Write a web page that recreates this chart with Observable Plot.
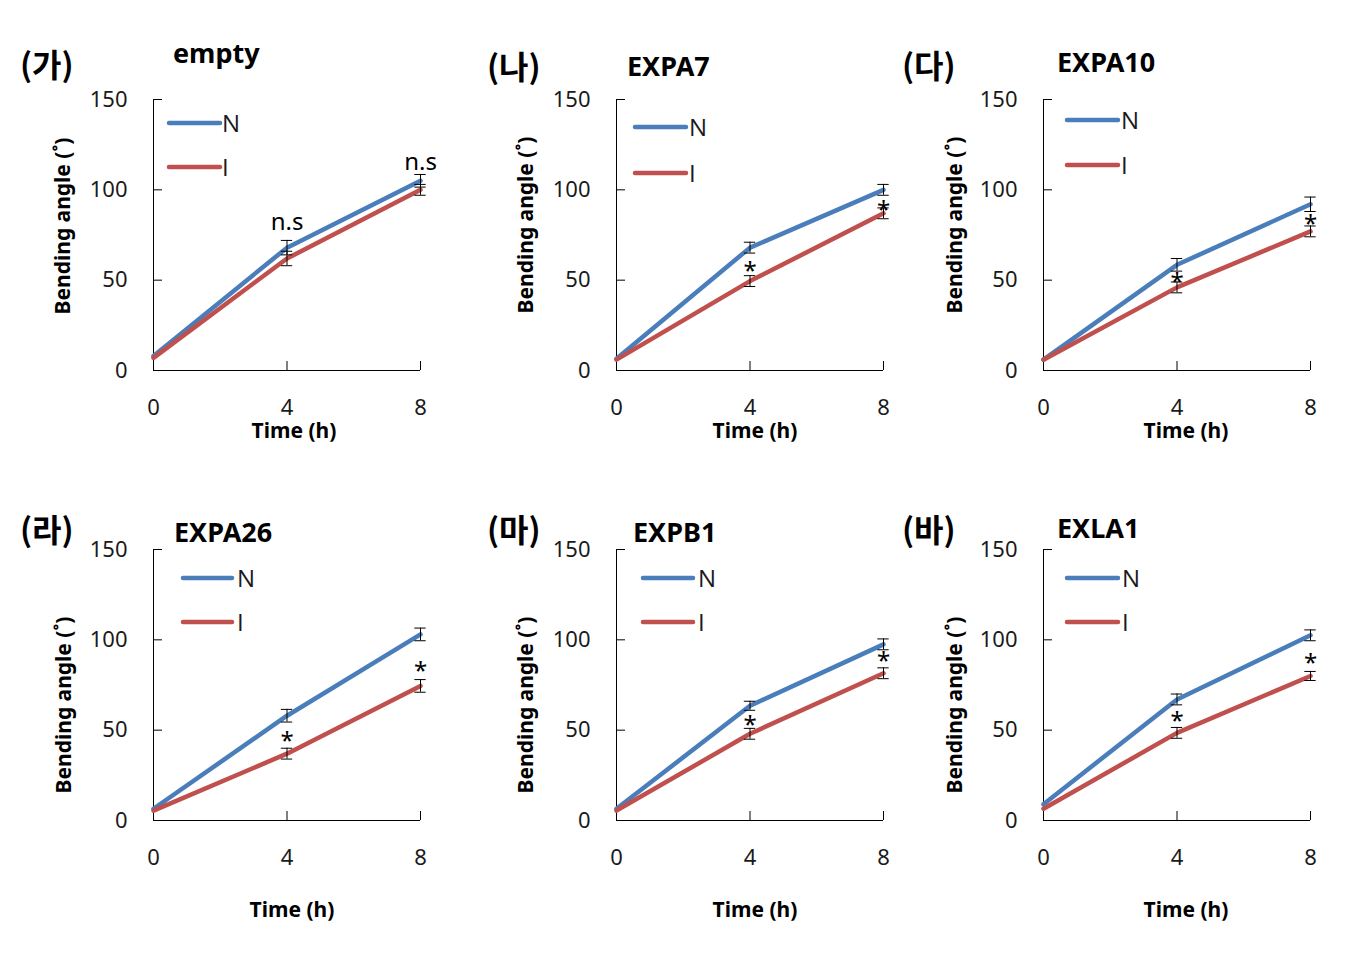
<!DOCTYPE html>
<html><head><meta charset="utf-8">
<script src="https://cdn.jsdelivr.net/npm/d3@7"></script>
<script src="https://cdn.jsdelivr.net/npm/@observablehq/plot@0.6"></script>
<style>
html,body{margin:0;padding:0;background:#fff;}
#wrap{position:relative;width:1347px;height:956px;overflow:hidden;}
.panel{position:absolute;}
.panel svg{overflow:visible;}
#overlay{position:absolute;left:0;top:0;pointer-events:none;}
</style></head><body><div id="wrap"></div>
<script>
// ---- data ----
const times = [0, 4, 8];
const tags = ["(가)", "(나)", "(다)", "(라)", "(마)", "(바)"];
const genes = ["empty", "EXPA7", "EXPA10", "EXPA26", "EXPB1", "EXLA1"];
const seriesNames = ["N", "I"];
const nMean = [[8, 68, 105], [6.5, 68, 100], [6, 58.5, 92], [6.5, 58, 103], [6.5, 63.5, 97.5], [9, 67, 102.5]];
const nErr  = [[0, 4, 3.5], [0, 3, 3], [0, 3.5, 4], [0, 3.5, 3.5], [0, 2.5, 3], [0, 3, 3]];
const iMean = [[7, 62, 100], [6, 49.5, 87], [6, 46, 77], [5.5, 37, 74.5], [5.5, 48, 81.5], [6.5, 48.5, 80]];
const iErr  = [[0, 4, 3], [0, 3, 3], [0, 3, 3], [0, 3, 3.5], [0, 3, 3], [0, 3, 2.5]];
const annoTimes = [4, 8];
const annoText = [["n.s", "n.s"], ["*", "*"], ["*", "*"], ["*", "*"], ["*", "*"], ["*", "*"]];
const annoY = [[82, 115], [58, 92], [52, 84.5], [47, 86], [56, 91.5], [58, 90.5]];
const yTicks = [0, 50, 100, 150];
const xTicks = [0, 4, 8];
const yLabel = "Bending angle (˚)";
const xLabel = "Time (h)";

// ---- layout ----
const BLUE = "#4a7ebb", RED = "#c0504d";
const FONT = '"Noto Sans","Noto Sans CJK KR",sans-serif';
const LFONT = '"Open Sans","Noto Sans",sans-serif';
const KFONT = '"Noto Sans CJK KR","Noto Sans",sans-serif';
const PW = 267, PH = 271, ML = 110, MR = 30, MT = 20, MB = 50;
const frameLeft = [153, 616, 1043, 153, 616, 1043];
const frameTop = [99, 99, 99, 549, 549, 549];

const wrap = document.getElementById("wrap");

genes.forEach((g, i) => {
  const rowsN = times.map((t, j) => ({t, v: nMean[i][j], e: nErr[i][j]}));
  const rowsI = times.map((t, j) => ({t, v: iMean[i][j], e: iErr[i][j]}));
  const all = rowsN.concat(rowsI).filter(d => d.e > 0);
  const caps = all.flatMap(d => [{t: d.t, y: d.v + d.e}, {t: d.t, y: d.v - d.e}]);
  const anno = annoTimes.map((t, j) => ({t, y: annoY[i][j], label: annoText[i][j]}));
  const plot = Plot.plot({
    width: ML + PW + MR, height: MT + PH + MB,
    marginLeft: ML, marginRight: MR, marginTop: MT, marginBottom: MB,
    x: {domain: [0, 8]},
    y: {domain: [0, 150]},
    style: {fontFamily: FONT, fontSize: "22px", color: "#1a1a1a", background: "transparent", overflow: "visible"},
    marks: [
      Plot.axisY({ticks: yTicks, tickSize: -9, tickFormat: () => "", label: null, stroke: "#000"}),
      Plot.axisY({ticks: yTicks, tickSize: 0, tickPadding: 26, label: null, fontSize: 22}),
      Plot.axisX({ticks: xTicks, tickSize: -9, tickFormat: () => "", label: null, stroke: "#000"}),
      Plot.axisX({ticks: xTicks, tickSize: 0, tickPadding: 29, label: null, fontSize: 22}),
      Plot.ruleX([0], {stroke: "#000"}),
      Plot.ruleY([0], {stroke: "#000"}),
      Plot.line(rowsN, {x: "t", y: "v", stroke: BLUE, strokeWidth: 4.5, strokeLinecap: "round", strokeLinejoin: "round"}),
      Plot.line(rowsI, {x: "t", y: "v", stroke: RED, strokeWidth: 4.5, strokeLinecap: "round", strokeLinejoin: "round"}),
      Plot.ruleX(all, {x: "t", y1: d => d.v - d.e, y2: d => d.v + d.e, stroke: "#000", strokeWidth: 1}),
      Plot.ruleY(caps, {y: "y", x1: d => d.t - 0.17, x2: d => d.t + 0.17, stroke: "#000", strokeWidth: 1}),
      Plot.text(anno, {x: "t", y: "y", text: "label", fontSize: 24, fill: "#000",
        dy: anno[0].label === "*" ? 6 : 0})
    ]
  });
  const div = document.createElement("div");
  div.className = "panel";
  div.style.left = (frameLeft[i] - ML) + "px";
  div.style.top = (frameTop[i] - MT) + "px";
  div.appendChild(plot);
  wrap.appendChild(div);
});

// nudge the second n.s label (first panel) slightly left like the reference
{
  const texts = wrap.querySelectorAll(".panel")[0].querySelectorAll("text");
  texts.forEach(t => { if (t.textContent === "n.s" && +t.getAttribute("x") > 400) t.setAttribute("x", +t.getAttribute("x") - 6); });
}

// ---- overlay: titles, axis labels, legends ----
const tagX = [20, 487, 902, 20, 487, 902];
const tagY = [63, 65, 64, 528, 528, 528];
const geneX = [173, 627, 1057, 174, 633, 1057];
const geneBase = [63, 76, 72, 542, 542, 538];
const yLabX = [70, 533, 962, 71, 533, 962];
const yLabY = [226, 225, 225, 705, 705, 705];
const xLabX = [294, 755, 1186, 292, 755, 1186];
const xLabBase = [438, 438, 438, 917, 917, 917];
const legX1 = [169, 635, 1067, 183, 643, 1067];
const legX2 = [220, 686, 1118, 232, 693, 1118];
const legYN = [123, 127, 120, 578, 578, 578];
const legYI = [167, 173, 165, 622, 622, 622];
const legTX = [222, 689, 1121, 237, 698, 1122];

const svg = d3.select(wrap).append("svg").attr("id", "overlay").attr("width", 1347).attr("height", 956);
genes.forEach((g, i) => {
  svg.append("text").attr("x", tagX[i]).attr("y", tagY[i]).attr("dominant-baseline", "central")
    .attr("font-family", KFONT).attr("font-weight", "bold").attr("font-size", 32).attr("fill", "#000").text(tags[i]);
  svg.append("text").attr("x", geneX[i]).attr("y", geneBase[i])
    .attr("font-family", FONT).attr("font-weight", "bold").attr("font-size", 27).attr("fill", "#000").text(g);
  svg.append("text").attr("transform", `translate(${yLabX[i]},${yLabY[i]}) rotate(-90)`).attr("text-anchor", "middle")
    .attr("font-family", FONT).attr("font-weight", "bold").attr("font-size", 21).attr("fill", "#000").text(yLabel);
  svg.append("text").attr("x", xLabX[i]).attr("y", xLabBase[i]).attr("text-anchor", "middle")
    .attr("font-family", FONT).attr("font-weight", "bold").attr("font-size", 21).attr("fill", "#000").text(xLabel);
  [[legYN[i], BLUE, seriesNames[0]], [legYI[i], RED, seriesNames[1]]].forEach(([y, c, name]) => {
    svg.append("line").attr("x1", legX1[i]).attr("x2", legX2[i]).attr("y1", y).attr("y2", y)
      .attr("stroke", c).attr("stroke-width", 4.5).attr("stroke-linecap", "round");
    svg.append("text").attr("x", legTX[i]).attr("y", y + 8.5)
      .attr("font-family", LFONT).attr("font-size", 24).attr("fill", "#1a1a1a").text(name);
  });
});
</script>
</body></html>
